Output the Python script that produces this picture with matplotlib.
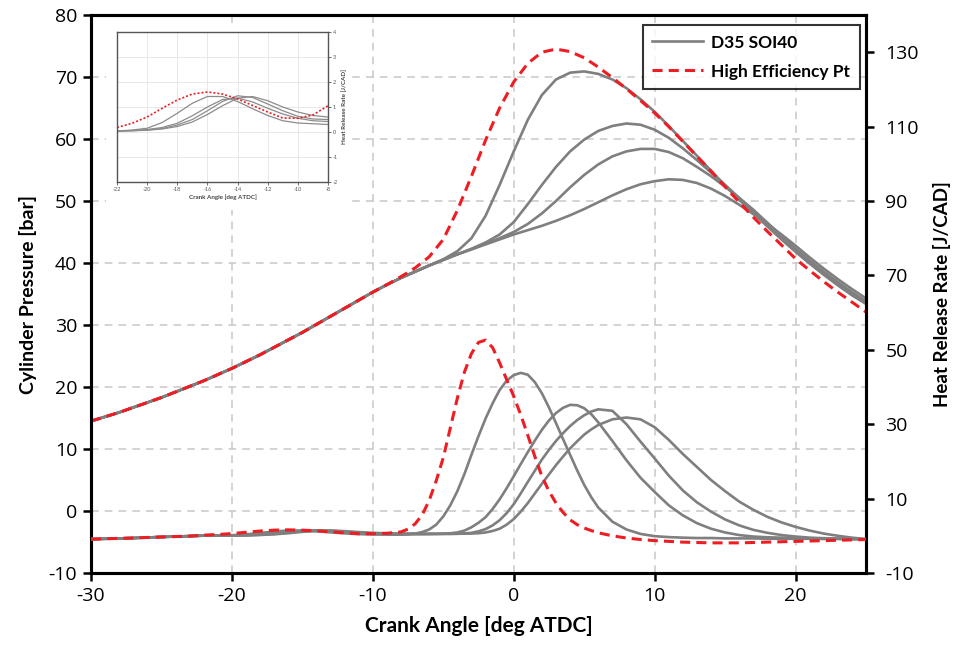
import matplotlib
matplotlib.use("Agg")
import matplotlib.pyplot as plt
from matplotlib.lines import Line2D

plt.rcParams['font.family'] = ['Lato', 'DejaVu Sans']
plt.rcParams['axes.unicode_minus'] = False

# ---------------- data ----------------
crank_angle = list(range(-30, 26))  # pressure grid, deg ATDC
# heat release grid: 1 deg, with 0.5 deg steps through combustion
crank_angle_hrr = list(range(-30, -7)) + [k / 2 for k in range(-15, 13)] + list(range(7, 26))

# shared compression pressure, -30 .. -9 deg
p_compression = [14.5, 15.2, 15.9, 16.7, 17.5, 18.3, 19.2, 20.1, 21.0, 22.0, 23.0,
                 24.1, 25.2, 26.4, 27.6, 28.8, 30.1, 31.4, 32.7, 34.0, 35.3, 36.5]

# pressure, -8 .. 25 deg
p_d35_1 = [37.6, 38.6, 39.6, 40.6, 41.9, 44.0, 47.6, 52.6, 58.0, 63.1, 67.1, 69.6, 70.7,
           70.9, 70.5, 69.6, 68.2, 66.4, 64.4, 62.1, 59.7, 57.3, 54.9, 52.5, 50.2, 48.0,
           45.9, 43.8, 41.8, 39.9, 38.1, 36.4, 34.8, 33.4]
p_d35_2 = [37.6, 38.6, 39.6, 40.5, 41.4, 42.3, 43.3, 44.6, 46.6, 49.5, 52.6, 55.5, 58.0,
           59.9, 61.3, 62.1, 62.5, 62.3, 61.5, 60.2, 58.5, 56.6, 54.6, 52.6, 50.5, 48.4,
           46.2, 44.1, 42.0, 40.1, 38.3, 36.6, 35.0, 33.5]
p_d35_3 = [37.6, 38.6, 39.6, 40.5, 41.4, 42.2, 43.1, 44.0, 45.0, 46.3, 48.0, 50.0, 52.2,
           54.2, 55.9, 57.2, 58.0, 58.4, 58.4, 57.9, 56.9, 55.5, 54.0, 52.3, 50.5, 48.6,
           46.5, 44.4, 42.3, 40.4, 38.6, 36.9, 35.3, 33.8]
p_d35_4 = [37.6, 38.6, 39.6, 40.5, 41.4, 42.2, 43.0, 43.8, 44.6, 45.3, 46.0, 46.8, 47.7,
           48.7, 49.8, 50.9, 51.9, 52.7, 53.2, 53.5, 53.4, 52.9, 52.0, 50.8, 49.4, 47.9,
           46.3, 44.6, 42.8, 40.9, 39.1, 37.4, 35.8, 34.3]
p_high_eff = [37.8, 39.2, 41.0, 43.8, 48.5, 54.0, 59.8, 65.0, 69.2, 72.2, 74.0, 74.5, 74.1,
              73.1, 71.6, 69.9, 68.1, 66.2, 64.2, 62.0, 59.6, 57.2, 54.8, 52.3, 49.8, 47.4,
              45.1, 42.9, 40.7, 38.8, 37.0, 35.3, 33.7, 32.1]

# shared early heat release rate, -30 .. -23 deg
hrr_early = [-0.9, -0.8, -0.7, -0.6, -0.45, -0.32, -0.2, -0.08]

# heat release rate: -22..-8 (1 deg), -7.5..6 (0.5 deg), 7..25 (1 deg)
hrr_d35_1 = [0.04, 0.08, 0.15, 0.38, 0.75, 1.15, 1.42, 1.42, 1.22, 0.93, 0.66, 0.45, 0.36, 0.33, 0.3,
             0.4, 0.6, 1.0, 1.7, 3.0, 5.2, 8.2, 12.0, 16.6, 21.8, 26.8, 31.5, 35.6, 39.2,
             41.7, 43.2, 43.8, 43.3, 41.3, 38.3, 34.5, 30.3, 26.0, 21.8, 17.6, 13.7, 10.4, 7.6,
             3.8, 1.7, 0.5, -0.1, -0.35, -0.5, -0.6, -0.6, -0.7, -0.7, -0.7, -0.8, -0.8, -0.8,
             -0.8, -0.85, -0.85, -0.9, -0.9]
hrr_d35_2 = [0.04, 0.06, 0.1, 0.18, 0.35, 0.65, 1.0, 1.3, 1.36, 1.2, 0.95, 0.72, 0.55, 0.45, 0.42,
             0.42, 0.42, 0.43, 0.45, 0.5, 0.55, 0.68, 0.9, 1.4, 2.3, 3.5, 5.0, 7.2, 9.8,
             12.8, 16.0, 19.3, 22.5, 25.6, 28.5, 31.0, 33.0, 34.4, 35.2, 35.1, 34.3, 32.7, 30.5,
             25.5, 20.3, 15.6, 11.8, 8.2, 5.5, 3.4, 1.9, 0.9, 0.2, -0.2, -0.4, -0.5, -0.6,
             -0.7, -0.75, -0.8, -0.85, -0.9]
hrr_d35_3 = [0.04, 0.05, 0.08, 0.14, 0.28, 0.5, 0.85, 1.22, 1.45, 1.38, 1.12, 0.85, 0.63, 0.52, 0.5,
             0.5, 0.5, 0.5, 0.5, 0.5, 0.5, 0.5, 0.55, 0.65, 0.8, 1.2, 1.8, 2.8, 4.2,
             6.1, 8.5, 11.4, 14.5, 17.5, 20.5, 23.1, 25.5, 27.6, 29.5, 31.1, 32.4, 33.4, 34.0,
             33.6, 30.0, 25.3, 20.8, 16.2, 12.2, 9.0, 6.5, 4.4, 2.8, 1.6, 0.8, 0.2, -0.2,
             -0.5, -0.65, -0.75, -0.85, -0.9]
hrr_d35_4 = [0.04, 0.05, 0.07, 0.12, 0.22, 0.4, 0.7, 1.05, 1.35, 1.42, 1.25, 1.0, 0.8, 0.66, 0.6,
             0.59, 0.58, 0.57, 0.56, 0.55, 0.55, 0.55, 0.55, 0.57, 0.6, 0.7, 0.9, 1.3, 1.9,
             3.0, 4.5, 6.5, 8.8, 11.4, 14.0, 16.5, 19.0, 21.3, 23.5, 25.4, 27.2, 28.6, 29.8,
             31.3, 31.8, 31.3, 29.2, 25.8, 22.0, 18.5, 15.0, 12.0, 9.2, 7.0, 5.1, 3.6, 2.4,
             1.4, 0.6, 0.0, -0.5, -0.9]
hrr_high_eff = [0.18, 0.35, 0.6, 0.95, 1.28, 1.52, 1.6, 1.52, 1.32, 1.06, 0.8, 0.56, 0.55, 0.68, 1.05,
                1.8, 3.2, 5.6, 9.5, 14.8, 21.0, 29.0, 37.0, 44.0, 49.0, 52.0, 52.6, 50.6, 46.5,
                42.0, 37.5, 32.5, 27.0, 21.3, 16.0, 12.0, 8.8, 6.3, 4.3, 3.0, 2.1, 1.4, 0.8,
                0.0, -0.6, -1.0, -1.3, -1.5, -1.7, -1.8, -1.9, -1.9, -1.9, -1.8, -1.7, -1.6, -1.5,
                -1.4, -1.3, -1.2, -1.1, -1.0]

legend_labels = ["D35 SOI40", "High Efficiency Pt"]
x_label = "Crank Angle [deg ATDC]"
y1_label = "Cylinder Pressure [bar]"
y2_label = "Heat Release Rate [J/CAD]"
x_ticks = [-30, -20, -10, 0, 10, 20]
y1_ticks = list(range(-10, 81, 10))
y2_ticks = list(range(-10, 131, 20))
inset_x_ticks = [-22, -20, -18, -16, -14, -12, -10, -8]
inset_y_ticks = [-2, -1, 0, 1, 2, 3, 4]

# ---------------- build series ----------------
gray_p = [p_compression + s for s in (p_d35_1, p_d35_2, p_d35_3, p_d35_4)]
red_p = p_compression + p_high_eff
gray_h = [hrr_early + s for s in (hrr_d35_1, hrr_d35_2, hrr_d35_3, hrr_d35_4)]
red_h = hrr_early + hrr_high_eff

GRAY = '#7f7f7f'
RED = '#ee1d23'
GRID = '#c8c8c8'
TICKFONT = ['Open Sans', 'DejaVu Sans']

fig = plt.figure(figsize=(9.56, 6.5), dpi=100)
ax1 = fig.add_axes([91/956, 77/650, 775/956, 558/650])
ax2 = ax1.twinx()
ax1.set_zorder(1)
ax2.set_zorder(2)
ax2.patch.set_visible(False)

for y in gray_p:
    ax1.plot(crank_angle, y, color=GRAY, lw=1.9, zorder=3)
ax1.plot(crank_angle, red_p, color=RED, lw=2.2, dashes=(3.3, 2.0), zorder=4)

for y in gray_h:
    ax2.plot(crank_angle_hrr, y, color=GRAY, lw=1.9, zorder=3)
ax2.plot(crank_angle_hrr, red_h, color=RED, lw=2.2, dashes=(3.3, 2.0), zorder=4)

ax1.set_xlim(-30, 25)
ax1.set_ylim(-10, 80)
ax2.set_ylim(-10, 140)
ax1.set_xticks(x_ticks)
ax1.set_yticks(y1_ticks)
ax2.set_yticks(y2_ticks)

ax1.grid(True, color=GRID, lw=1.1, dashes=(5, 4))
ax1.set_axisbelow(True)

for ax in (ax1, ax2):
    for sp in ax.spines.values():
        sp.set_linewidth(2.2)
        sp.set_color('black')
ax1.tick_params(axis='both', direction='out', length=6, width=1.8, labelsize=14, pad=4)
ax2.tick_params(axis='y', direction='out', length=6, width=1.8, labelsize=14, pad=8)
for lab in ax1.get_xticklabels() + ax1.get_yticklabels() + ax2.get_yticklabels():
    lab.set_family(TICKFONT)

ax1.set_xlabel(x_label, fontsize=15, fontweight='bold', labelpad=8)
ax1.set_ylabel(y1_label, fontsize=14, fontweight='bold', labelpad=8)
ax2.set_ylabel(y2_label, fontsize=13.5, fontweight='bold', labelpad=10)

handles = [Line2D([], [], color=GRAY, lw=1.9),
           Line2D([], [], color=RED, lw=2.2, dashes=(3.3, 2.0))]
leg = ax2.legend(handles, legend_labels, loc='upper right',
                 bbox_to_anchor=(1 - 6/775, 1 - 10/558),
                 prop={'weight': 'bold', 'size': 12.5}, frameon=True, fancybox=False,
                 edgecolor='black', handlelength=2.9, borderpad=0.55, labelspacing=0.75,
                 handletextpad=0.5, borderaxespad=0.0)
leg.get_frame().set_linewidth(1.5)

# ---------------- inset ----------------
bg = fig.add_axes([106/956, (650-210)/650, 242/956, 183/650])
bg.set_zorder(5)
bg.set_xticks([])
bg.set_yticks([])
for sp in bg.spines.values():
    sp.set_visible(False)
bg.set_facecolor('white')

ins = fig.add_axes([117/956, (650-182)/650, 211/956, 150/650])
ins.set_zorder(6)
lo = crank_angle_hrr.index(-22)
hi = crank_angle_hrr.index(-8) + 1
ins_x = crank_angle_hrr[lo:hi]
for y in gray_h:
    ins.plot(ins_x, y[lo:hi], color='#8c8c8c', lw=0.9)
ins.plot(ins_x, red_h[lo:hi], color=RED, lw=1.2, ls=(0, (1.2, 1.2)))
ins.set_xlim(-22, -8)
ins.set_ylim(-2, 4)
ins.set_xticks(inset_x_ticks)
ins.set_yticks(inset_y_ticks)
ins.yaxis.tick_right()
ins.yaxis.set_label_position('right')
ins.grid(True, color='#e4e4e4', lw=0.6)
ins.set_axisbelow(True)
for sp in ins.spines.values():
    sp.set_color('#555555')
    sp.set_linewidth(1.0)
ins.tick_params(axis='both', labelsize=4, length=2, width=0.6, colors='#555555', pad=1.5)
ins.set_xlabel(x_label, fontsize=4.5, fontweight='bold', labelpad=1.5, color='#444444')
ins.set_ylabel(y2_label, fontsize=4.5, fontweight='bold', labelpad=2, color='#444444')

fig.savefig('out.png', dpi=100)
